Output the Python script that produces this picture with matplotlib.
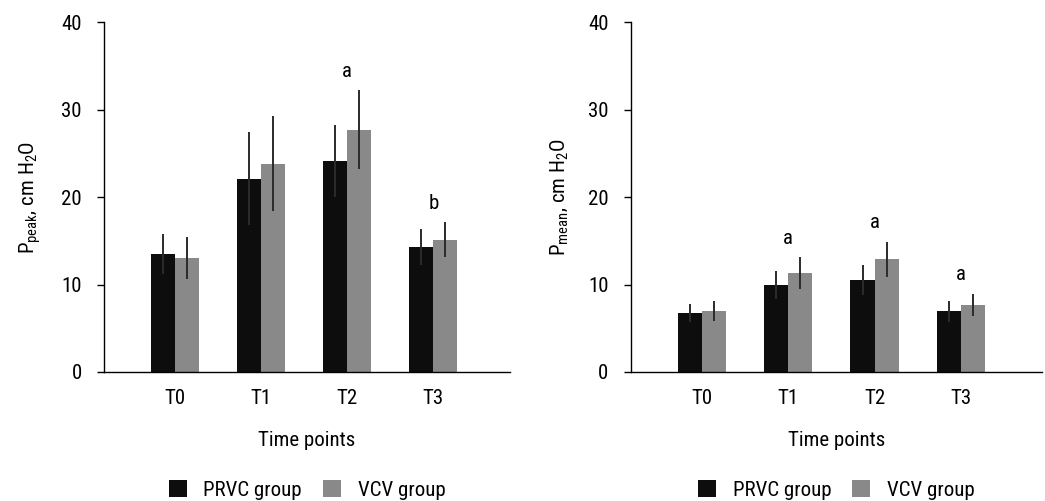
import matplotlib
matplotlib.use('Agg')
import matplotlib.pyplot as plt
import numpy as np

plt.rcParams['font.family'] = ['Roboto Condensed', 'PT Sans Narrow', 'DejaVu Sans']
plt.rcParams['mathtext.fontset'] = 'custom'
plt.rcParams['mathtext.rm'] = 'Roboto Condensed'
plt.rcParams['mathtext.it'] = 'Roboto Condensed:italic'
plt.rcParams['font.size'] = 15

times = ['T0', 'T1', 'T2', 'T3']
groups = ['PRVC group', 'VCV group']

# peak pressure
peak_prvc = [13.5, 22.1, 24.1, 14.3]
peak_prvc_sd = [2.3, 5.3, 4.15, 2.1]
peak_vcv = [13.0, 23.8, 27.7, 15.1]
peak_vcv_sd = [2.4, 5.45, 4.55, 2.0]
peak_marks = {2: ('a', 34.4), 3: ('b', 19.3)}

# mean pressure
mean_prvc = [6.75, 9.95, 10.5, 6.97]
mean_prvc_sd = [1.0, 1.55, 1.7, 1.2]
mean_vcv = [6.97, 11.3, 12.9, 7.65]
mean_vcv_sd = [1.15, 1.8, 2.0, 1.3]
mean_marks = {1: ('a', 15.3), 2: ('a', 17.1), 3: ('a', 11.2)}

col_prvc = '#0d0d0d'
col_vcv = '#898989'
err_col = '#2b2b2b'

fig = plt.figure(figsize=(10.45, 5.01), dpi=100)
ax1 = fig.add_axes([0.0995, 0.2575, 0.3885, 0.6985])
ax2 = fig.add_axes([0.6035, 0.2575, 0.3933, 0.6985])

w = 0.28
x = np.arange(len(times))


def draw(ax, a, a_sd, b, b_sd, marks, ylab, xmax):
    ax.bar(x - w / 2, a, w, color=col_prvc, label=groups[0])
    ax.bar(x + w / 2, b, w, color=col_vcv, label=groups[1])
    ax.errorbar(x - w / 2, a, yerr=a_sd, fmt='none', ecolor=err_col, elinewidth=1.4, capsize=0)
    ax.errorbar(x + w / 2, b, yerr=b_sd, fmt='none', ecolor=err_col, elinewidth=1.4, capsize=0)
    for i, (txt, yy) in marks.items():
        ax.text(x[i], yy, txt, ha='center', va='center', fontsize=15)
    ax.set_xlim(-0.826, xmax)
    ax.set_ylim(0, 40)
    ax.set_yticks([0, 10, 20, 30, 40])
    ax.set_xticks(x)
    ax.set_xticklabels(times)
    ax.spines['top'].set_visible(False)
    ax.spines['right'].set_visible(False)
    ax.spines['left'].set_linewidth(1.0)
    ax.spines['bottom'].set_linewidth(1.0)
    ax.tick_params(axis='y', length=5, width=1, pad=11, labelsize=15)
    ax.tick_params(axis='x', length=0, pad=12, labelsize=15)
    ax.set_xlabel('Time points', fontsize=15, labelpad=17)
    ax.set_ylabel(ylab, fontsize=15, labelpad=13)
    ax.legend(loc='center', bbox_to_anchor=(0.5, -0.337), ncol=2, frameon=False,
              handlelength=0.87, handleheight=0.85, handletextpad=0.8,
              columnspacing=1.0, fontsize=15)


draw(ax1, peak_prvc, peak_prvc_sd, peak_vcv, peak_vcv_sd, peak_marks,
     r'P$_{\mathrm{peak}}$, cm H$_{\mathrm{2}}$O', 3.89)
draw(ax2, mean_prvc, mean_prvc_sd, mean_vcv, mean_vcv_sd, mean_marks,
     r'P$_{\mathrm{mean}}$, cm H$_{\mathrm{2}}$O', 3.935)

fig.savefig('out.png', dpi=100)
